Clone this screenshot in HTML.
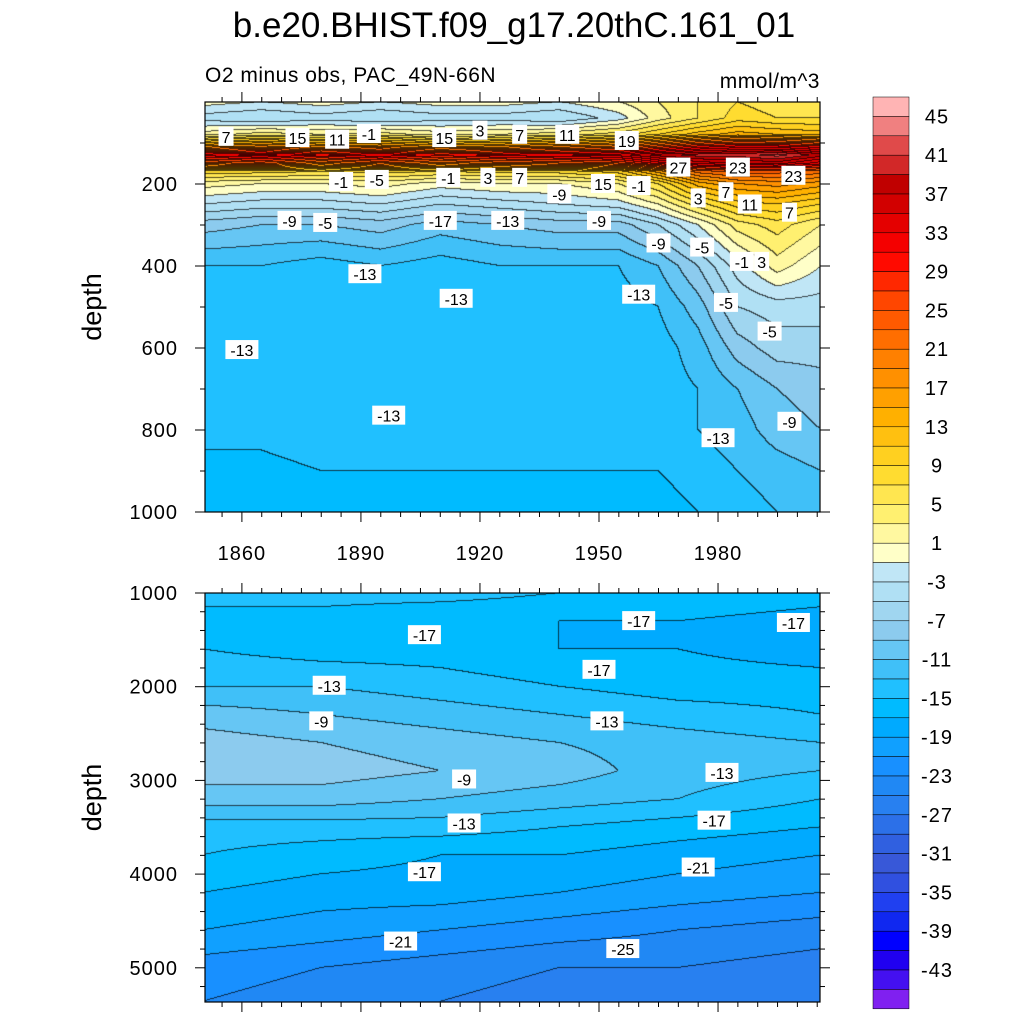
<!DOCTYPE html>
<html><head><meta charset="utf-8"><style>
body{margin:0;background:#fff;width:1024px;height:1024px;overflow:hidden;font-family:"Liberation Sans",sans-serif}
svg text{font-family:"Liberation Sans",sans-serif}
canvas{position:absolute}
#c1{left:205px;top:102px}
#c2{left:205px;top:593px}
svg{position:absolute;left:0;top:0}
</style></head><body>
<canvas id="c1" width="615" height="410"></canvas>
<canvas id="c2" width="615" height="409"></canvas>
<svg id="s" width="1024" height="1024"></svg>
<script>
// ---- data ----
const colors=["#ffb4b4","#f08080","#e04a4a","#d22828","#c00000","#d20000","#e40000","#f40000","#ff0a00","#ff2800","#ff4600","#ff5a00","#ff6e00","#ff8000","#ff9000","#ffa000","#ffb000","#ffc010","#ffd020","#ffdc30","#ffe650","#fff070","#fff8a0","#ffffc8","#c0e6f6","#b0e0f4","#a0d6f0","#8ccbee","#66c6f4","#40c0f8","#20c0ff","#00bbff","#00aaff","#10a0ff","#1890ff","#2088f4","#2880f0","#2c70e8","#3060e0","#3858d8","#3050e0","#2040f0","#1028f0","#0000ff","#2000f0","#4410f0","#8020f0"];
const cbarLabels=[45,41,37,33,29,25,21,17,13,9,5,1,-3,-7,-11,-15,-19,-23,-27,-31,-35,-39,-43];
const xTickYears=[1860,1890,1920,1950,1980];
const topDepthTicks=[200,400,600,800,1000];
const botDepthTicks=[1000,2000,3000,4000,5000];
const topYears=[1850,1865,1880,1895,1910,1925,1940,1955,1965,1975,1985,1995,2006];
const topDepths=[0,40,80,110,130,150,170,200,250,300,400,500,600,700,800,900,1000];
const topVals=[
[0,-1,0,-1,0,0,-1,1,3,5,7,6,7],
[-4,-5,-4,-5,-4,-4,-5,-2,2,5,8,7,7],
[2,4,3,4,2,3,4,6,9,12,14,13,12],
[18,20,18,19,17,18,20,22,26,30,32,32,30],
[32,34,31,33,30,32,33,34,38,40,40,42,38],
[22,24,20,23,20,22,23,25,30,34,35,36,32],
[8,8,7,8,7,8,8,10,16,22,24,24,22],
[2,1,1,2,0,1,1,3,7,14,17,18,16],
[-3,-4,-4,-3,-5,-4,-3,-2,1,6,10,11,9],
[-8,-9,-9,-8,-10,-9,-8,-8,-5,-1,4,6,3],
[-13,-13,-14,-13,-14,-13,-13,-13,-11,-7,-2,2,-1],
[-14,-14,-14,-14,-14,-14,-14,-14,-13,-10,-5,-4,-4],
[-14,-14,-14,-14,-14,-14,-14,-14,-14,-12,-8,-6,-6],
[-14,-14,-14,-14,-14,-14,-14.5,-14,-14,-13,-11,-9,-8],
[-14.5,-14.5,-14,-14,-14.5,-14.5,-14.5,-14.5,-14,-13,-12,-10,-9],
[-15.5,-15.5,-15,-15,-15,-15,-15,-15,-15,-14,-13,-12,-11],
[-16,-16,-16,-16,-16,-16,-16,-16,-16,-15,-14,-13,-12]];
const botYears=[1850,1880,1910,1940,1970,2006];
const botDepths=[1000,1300,1600,2000,2300,2600,2900,3200,3500,3800,4200,4600,5000,5363];
const botVals=[
[-14,-14,-14,-15,-15,-16],
[-16,-16,-17,-17,-17,-18],
[-15,-16,-16,-17,-17,-18],
[-13,-13,-14,-15,-16,-16],
[-10,-11,-12,-13,-14,-15],
[-8,-9,-10,-11,-12,-13],
[-8,-8,-9,-10,-12,-13],
[-10,-10,-11,-12,-13,-15],
[-14,-14,-14,-15,-16,-17],
[-15,-16,-17,-17,-18,-19],
[-17,-18,-18,-19,-20,-21],
[-19,-20,-21,-22,-23,-24],
[-22,-23,-24,-25,-25,-26],
[-23,-24,-25,-26,-27,-27]];
const topLabels=[[1856,85,"7"],[1874,88,"15"],[1884,92,"11"],[1892,78,"-1"],[1911,88,"15"],[1920,70,"3"],[1930,80,"7"],[1942,80,"11"],[1957,95,"19"],[1970,160,"27"],[1985,160,"23"],[1999,180,"23"],[1885,195,"-1"],[1894,190,"-5"],[1912,185,"-1"],[1922,185,"3"],[1930,185,"7"],[1951,200,"15"],[1960,205,"-1"],[1975,235,"3"],[1982,220,"7"],[1988,250,"11"],[1998,270,"7"],[1872,290,"-9"],[1881,295,"-5"],[1910,290,"-17"],[1927,290,"-13"],[1940,225,"-9"],[1950,290,"-9"],[1965,345,"-9"],[1976,355,"-5"],[1986,390,"-1"],[1991,390,"3"],[1891,420,"-13"],[1914,480,"-13"],[1960,470,"-13"],[1982,490,"-5"],[1993,560,"-5"],[1860,605,"-13"],[1897,765,"-13"],[1980,820,"-13"],[1998,780,"-9"]];
const botLabels=[[1906,1450,"-17"],[1960,1300,"-17"],[1999,1320,"-17"],[1882,1990,"-13"],[1950,1820,"-17"],[1880,2370,"-9"],[1952,2370,"-13"],[1916,2990,"-9"],[1981,2920,"-13"],[1916,3460,"-13"],[1979,3430,"-17"],[1906,3980,"-17"],[1975,3930,"-21"],[1900,4720,"-21"],[1956,4800,"-25"]];
// ---- scales ----
const X0=205,X1=820,Y0=1850.7,YR1=2005.7;
const xs=y=>X0+(y-Y0)/(YR1-Y0)*(X1-X0);
const ysTop=d=>102+d*0.41;
const ysBot=d=>593+(d-1000)*0.0937;
function idx(arr,v){let i=0;while(i<arr.length-2&&v>arr[i+1])i++;let t=(v-arr[i])/(arr[i+1]-arr[i]);return [i,Math.max(0,Math.min(1,t))];}
function interp(T,D,V,yr,d){const [i,ti]=idx(T,yr),[j,tj]=idx(D,d);
 const a=V[j][i]*(1-ti)+V[j][i+1]*ti,b=V[j+1][i]*(1-ti)+V[j+1][i+1]*ti;return a*(1-tj)+b*tj;}
function lev(v){return Math.max(0,Math.min(46,Math.floor((47-v)/2)));}
function hex(h){return [parseInt(h.slice(1,3),16),parseInt(h.slice(3,5),16),parseInt(h.slice(5,7),16)];}
const rgb=colors.map(hex);
function draw(id,T,D,V,dOf){const c=document.getElementById(id),ctx=c.getContext('2d'),W=c.width,H=c.height;
 const L=new Int16Array(W*H);
 for(let y=0;y<H;y++){const d=dOf(y+0.5);for(let x=0;x<W;x++){const yr=Y0+(x+0.5)/W*(YR1-Y0);L[y*W+x]=lev(interp(T,D,V,yr,d));}}
 const img=ctx.createImageData(W,H);
 for(let y=0;y<H;y++)for(let x=0;x<W;x++){const k=y*W+x;let c=rgb[L[k]];let dark=(x<W-1&&L[k+1]!=L[k])||(y<H-1&&L[k+W]!=L[k]);
  img.data[4*k]=dark?c[0]*0.3:c[0];img.data[4*k+1]=dark?c[1]*0.3:c[1];img.data[4*k+2]=dark?c[2]*0.3:c[2];img.data[4*k+3]=255;}
 ctx.putImageData(img,0,0);}
draw('c1',topYears,topDepths,topVals,y=>y/0.41);
draw('c2',botYears,botDepths,botVals,y=>1000+y/0.0937);
// ---- overlay ----
const s=document.getElementById('s');const NS="http://www.w3.org/2000/svg";
function el(t,a,txt){const e=document.createElementNS(NS,t);for(const k in a)e.setAttribute(k,a[k]);if(txt!==undefined)e.textContent=txt;s.appendChild(e);return e;}
let e;
e=el('text',{x:514,y:37,'font-size':35,'text-anchor':'middle'},'b.e20.BHIST.f09_g17.20thC.161_01');


e=el('text',{x:205,y:82,'font-size':21,'letter-spacing':'0.5'},'O2 minus obs, PAC_49N-66N');


e=el('text',{x:820,y:88,'font-size':21,'text-anchor':'end','letter-spacing':'0.5'},'mmol/m^3');


[['top',102,512],['bot',593,1002]].forEach(([n,t,b])=>{
 e=el('rect',{x:205,y:t,width:615,height:b-t,fill:'none',stroke:'#000','stroke-width':1.2});
 
 
 e=el('text',{x:0,y:0,'font-size':27,'text-anchor':'middle',transform:`translate(101,${(t+b)/2}) rotate(-90)`},'depth');
 
 
 for(let yr=1855;yr<=2005;yr+=5){const x=xs(yr),maj=(yr-1860)%30==0;
  el('line',{x1:x,x2:x,y1:b,y2:b+(maj?10:5),stroke:'#000'});el('line',{x1:x,x2:x,y1:t,y2:t-(maj?10:5),stroke:'#000'});}
});
xTickYears.forEach(yr=>{e=el('text',{x:xs(yr),y:560,'font-size':20,'text-anchor':'middle','letter-spacing':'1'},yr);
 
 });
for(let d=100;d<=1000;d+=100){const y=ysTop(d),m=d%200==0;el('line',{x1:205,x2:205-(m?10:5),y1:y,y2:y,stroke:'#000'});el('line',{x1:820,x2:820+(m?10:5),y1:y,y2:y,stroke:'#000'});}
for(let d=1000;d<=5300;d+=200){const y=ysBot(d),m=d%1000==0;el('line',{x1:205,x2:205-(m?10:5),y1:y,y2:y,stroke:'#000'});el('line',{x1:820,x2:820+(m?10:5),y1:y,y2:y,stroke:'#000'});}
topDepthTicks.forEach(d=>{e=el('text',{x:178,y:ysTop(d)+7,'font-size':20,'text-anchor':'end','letter-spacing':'1'},d);
 
 });
botDepthTicks.forEach(d=>{e=el('text',{x:178,y:ysBot(d)+7,'font-size':20,'text-anchor':'end','letter-spacing':'1'},d);
 
 });
function lbl(x,y,t){const w=t.length*9+6;el('rect',{x:x-w/2,y:y-10,width:w,height:19,fill:'#fff'});
 e=el('text',{x:x,y:y+6,'font-size':16,'text-anchor':'middle'},t);
 
 }
topLabels.forEach(([yr,d,t])=>lbl(xs(yr),ysTop(d),t));
botLabels.forEach(([yr,d,t])=>lbl(xs(yr),ysBot(d),t));
// colorbar
const CB=97,BH=19.4;
colors.forEach((c,k)=>{e=el('rect',{x:873,y:CB+k*BH,width:36,height:BH,fill:c,stroke:'#000','stroke-width':0.5});
 
 });
cbarLabels.forEach((v,i)=>{e=el('text',{x:937,y:CB+(1+2*i)*BH+7,'font-size':20,'text-anchor':'middle','letter-spacing':'1'},v);
 
 });
</script>
</body></html>
